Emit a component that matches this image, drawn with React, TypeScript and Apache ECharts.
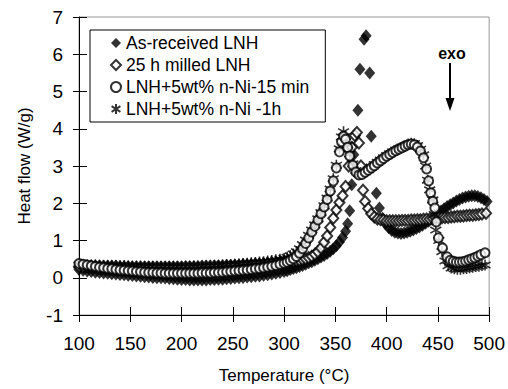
import React, { useEffect, useRef } from "react";
import * as echarts from "echarts";

const FONT = "'Liberation Sans', Arial, sans-serif";

const seriesNames = [
  "As-received LNH",
  "25 h milled LNH",
  "LNH+5wt% n-Ni-15 min",
  "LNH+5wt% n-Ni -1h",
];

const xMin = 100, xMax = 500, xStep = 50;
const yMin = -1, yMax = 7, yStep = 1;

// As-received LNH (filled diamonds)
const asReceived: [number, number][] = [
  [100,0.22],[104,0.2],[108,0.18],[112,0.17],[116,0.15],[120,0.14],[124,0.13],[128,0.12],[132,0.11],[136,0.1],
  [140,0.09],[144,0.08],[148,0.07],[152,0.06],[156,0.05],[160,0.04],[164,0.03],[168,0.02],[172,0.01],[176,0.0],
  [180,0.0],[184,-0.01],[188,-0.02],[192,-0.03],[196,-0.04],[200,-0.05],[204,-0.05],[208,-0.06],[212,-0.06],[216,-0.06],
  [220,-0.06],[224,-0.06],[228,-0.05],[232,-0.05],[236,-0.04],[240,-0.04],[244,-0.03],[248,-0.02],[252,-0.01],[256,0.0],
  [260,0.01],[264,0.02],[268,0.03],[272,0.04],[276,0.05],[280,0.07],[284,0.08],[288,0.1],[292,0.12],[296,0.14],
  [300,0.17],[303,0.19],[306,0.22],[309,0.25],[312,0.27],[315,0.3],[318,0.33],[321,0.36],[324,0.4],[327,0.43],
  [330,0.47],[333,0.51],[336,0.56],[339,0.6],[342,0.65],[345,0.71],[348,0.78],[351,0.86],[354,0.96],[357,1.08],
  [360,1.25],[362,1.45],[364,1.8],[366,2.5],[368,3.3],[372,4.5],[374,5.6],[378,6.4],[380,6.5],[383.5,5.5],
  [385,3.8],[390,2.27],[393,1.87],[396,1.6],[399,1.44],[402,1.34],[405,1.27],[408,1.22],[411,1.2],[414,1.19],
  [417,1.2],[420,1.22],[423,1.25],[426,1.28],[429,1.32],[432,1.36],[435,1.41],[438,1.46],[441,1.52],[444,1.58],
  [447,1.65],[450,1.72],[453,1.79],[456,1.85],[459,1.91],[462,1.96],[465,2.01],[468,2.06],[471,2.1],[474,2.14],
  [477,2.17],[480,2.19],[483,2.2],[486,2.2],[489,2.18],[492,2.15],[495,2.1],[498,2.05],
];

// 25 h milled LNH (open diamonds)
const milled25h: [number, number][] = [
  [100,0.3],[104,0.3],[108,0.31],[112,0.31],[116,0.31],[120,0.31],[124,0.3],[128,0.3],[132,0.3],[136,0.3],
  [140,0.29],[144,0.29],[148,0.29],[152,0.28],[156,0.28],[160,0.28],[164,0.28],[168,0.28],[172,0.28],[176,0.28],
  [180,0.28],[184,0.28],[188,0.28],[192,0.28],[196,0.28],[200,0.28],[204,0.29],[208,0.29],[212,0.29],[216,0.29],
  [220,0.3],[224,0.3],[228,0.3],[232,0.31],[236,0.31],[240,0.31],[244,0.32],[248,0.32],[252,0.33],[256,0.33],
  [260,0.34],[264,0.34],[268,0.35],[272,0.36],[276,0.36],[280,0.37],[284,0.38],[288,0.39],[292,0.4],[296,0.41],
  [300,0.42],[303,0.43],[306,0.44],[309,0.45],[312,0.46],[315,0.47],[318,0.49],[321,0.51],[324,0.54],[327,0.58],
  [330,0.63],[333,0.7],[336,0.8],[339,0.95],[342,1.12],[345,1.35],[348,1.6],[351,1.82],[354,2.02],[357,2.2],
  [360,2.45],[363,3.0],[366,3.5],[369,3.82],[371,3.9],[373,3.62],[375,3.0],[377,2.35],[379,2.05],[382,1.86],
  [385,1.72],[388,1.63],[391,1.58],[394,1.56],[397,1.55],[400,1.53],[403,1.53],[406,1.53],[409,1.53],[412,1.53],
  [415,1.54],[418,1.54],[421,1.54],[424,1.55],[427,1.55],[430,1.56],[433,1.56],[436,1.57],[439,1.58],[442,1.58],
  [445,1.59],[448,1.6],[451,1.6],[454,1.61],[457,1.62],[460,1.62],[463,1.63],[466,1.64],[469,1.65],[472,1.65],
  [475,1.66],[478,1.67],[481,1.68],[484,1.68],[487,1.69],[490,1.7],[493,1.71],[497,1.73],
];

// LNH+5wt% n-Ni-15 min (open circles)
const nNi15min: [number, number][] = [
  [100,0.38],[104,0.36],[108,0.34],[112,0.32],[116,0.3],[120,0.28],[124,0.27],[128,0.25],[132,0.24],[136,0.22],
  [140,0.21],[144,0.2],[148,0.19],[152,0.18],[156,0.17],[160,0.16],[164,0.15],[168,0.14],[172,0.14],[176,0.13],
  [180,0.13],[184,0.12],[188,0.12],[192,0.12],[196,0.12],[200,0.12],[204,0.12],[208,0.12],[212,0.12],[216,0.12],
  [220,0.13],[224,0.13],[228,0.13],[232,0.14],[236,0.14],[240,0.15],[244,0.16],[248,0.17],[252,0.18],[256,0.19],
  [260,0.2],[264,0.21],[268,0.22],[272,0.24],[276,0.25],[280,0.27],[284,0.29],[288,0.31],[292,0.33],[296,0.36],
  [300,0.39],[303,0.42],[306,0.46],[309,0.51],[312,0.57],[315,0.66],[318,0.78],[321,0.92],[324,1.07],[327,1.23],
  [330,1.38],[333,1.55],[336,1.72],[339,1.9],[342,2.1],[345,2.33],[348,2.6],[351,2.95],[354,3.38],[356,3.65],
  [358,3.8],[360,3.72],[362,3.5],[364,3.27],[367,3.02],[370,2.84],[373,2.76],[376,2.77],[379,2.83],[382,2.89],
  [385,2.95],[388,3.01],[391,3.08],[394,3.14],[397,3.2],[400,3.26],[403,3.31],[406,3.36],[409,3.41],[412,3.45],
  [415,3.49],[418,3.53],[421,3.57],[424,3.59],[427,3.57],[430,3.51],[433,3.4],[436,3.22],[439,2.92],[441,2.6],
  [443,2.28],[445,2.05],[447,1.87],[448.5,1.5],[450.5,1.07],[454.5,0.8],[459,0.56],[462,0.47],[465,0.44],[468,0.42],
  [471,0.42],[474,0.43],[477,0.45],[480,0.48],[483,0.51],[486,0.54],[489,0.58],[492,0.62],[496,0.67],
];

// LNH+5wt% n-Ni -1h (asterisks)
const nNi1h: [number, number][] = [
  [100,0.34],[104,0.34],[108,0.34],[112,0.34],[116,0.34],[120,0.33],[124,0.33],[128,0.33],[132,0.33],[136,0.32],
  [140,0.32],[144,0.32],[148,0.31],[152,0.31],[156,0.31],[160,0.31],[164,0.3],[168,0.3],[172,0.3],[176,0.3],
  [180,0.3],[184,0.3],[188,0.3],[192,0.3],[196,0.3],[200,0.3],[204,0.3],[208,0.3],[212,0.31],[216,0.31],
  [220,0.31],[224,0.32],[228,0.32],[232,0.33],[236,0.33],[240,0.34],[244,0.35],[248,0.35],[252,0.36],[256,0.37],
  [260,0.38],[264,0.39],[268,0.4],[272,0.41],[276,0.42],[280,0.43],[284,0.45],[288,0.46],[292,0.48],[296,0.5],
  [300,0.52],[303,0.55],[306,0.59],[309,0.64],[312,0.7],[315,0.78],[318,0.89],[321,1.01],[324,1.14],[327,1.28],
  [330,1.42],[333,1.58],[336,1.75],[339,1.93],[342,2.14],[345,2.38],[348,2.66],[351,3.02],[354,3.46],[356,3.78],
  [358,3.92],[360,3.8],[362,3.56],[364,3.32],[367,3.06],[370,2.88],[373,2.79],[376,2.79],[379,2.84],[382,2.9],
  [385,2.97],[388,3.04],[391,3.1],[394,3.16],[397,3.22],[400,3.28],[403,3.33],[406,3.38],[409,3.43],[412,3.47],
  [415,3.51],[418,3.55],[421,3.59],[424,3.61],[427,3.6],[430,3.55],[433,3.45],[436,3.3],[438,3.0],[440,2.62],
  [442,2.36],[445,2.09],[446.5,1.7],[448,1.28],[451,1.0],[454,0.7],[457,0.45],[460,0.32],[463,0.26],[466,0.24],
  [469,0.23],[472,0.23],[475,0.24],[478,0.25],[481,0.27],[484,0.28],[487,0.3],[490,0.31],[493,0.33],[496,0.34],
];

const ASTERISK = "path://M5 0L5 10M0.6 2.2L9.4 7.8M0.6 7.8L9.4 2.2";

export default function App() {
  const ref = useRef<HTMLDivElement>(null);
  useEffect(() => {
    if (!ref.current) return;
    const chart = echarts.init(ref.current, undefined, { renderer: "svg" });
    const labelStyle = { color: "#000", fontSize: 19, fontFamily: FONT };
    const scatterBase = { type: "scatter" as const, xAxisIndex: 0, yAxisIndex: 0 };
    chart.setOption({
      animation: false,
      backgroundColor: "#fff",
      grid: {
        left: 79, top: 17, right: 16, bottom: 74,
        show: true, borderColor: "#999", borderWidth: 1, backgroundColor: "transparent",
      },
      legend: {
        data: seriesNames,
        orient: "vertical",
        left: 90, top: 30,
        padding: [2, 16, 2, 20],
        itemGap: 0,
        itemWidth: 10, itemHeight: 10,
        borderColor: "#000", borderWidth: 1, backgroundColor: "#fff",
        textStyle: { color: "#000", fontSize: 17.5, fontFamily: FONT, lineHeight: 22 },
        selectedMode: false,
      },
      xAxis: [
        {
          type: "value", min: xMin, max: xMax, interval: xStep, position: "bottom",
          name: "Temperature (°C)", nameLocation: "middle", nameGap: 52,
          nameTextStyle: { color: "#000", fontSize: 17, fontFamily: FONT },
          axisLine: { onZero: false, lineStyle: { color: "#000", width: 1 } },
          axisTick: { show: true, inside: false, length: 7, lineStyle: { color: "#000" } },
          axisLabel: { ...labelStyle, margin: 19 },
          splitLine: { show: false },
        },
        {
          type: "value", min: xMin, max: xMax, interval: xStep, position: "bottom",
          axisLine: { show: false, onZero: false },
          axisTick: { show: true, inside: true, length: 8, lineStyle: { color: "#000" } },
          axisLabel: { show: false },
          splitLine: { show: false },
        },
      ],
      yAxis: [
        {
          type: "value", min: yMin, max: yMax, interval: yStep, position: "left",
          name: "Heat flow (W/g)", nameLocation: "middle", nameGap: 46, nameRotate: 90,
          nameTextStyle: { color: "#000", fontSize: 17, fontFamily: FONT },
          axisLine: { show: true, onZero: false, lineStyle: { color: "#000", width: 1 } },
          axisTick: { show: true, inside: false, length: 6, lineStyle: { color: "#000" } },
          axisLabel: { ...labelStyle, margin: 16 },
          splitLine: { show: false },
        },
        {
          type: "value", min: yMin, max: yMax, interval: yStep, position: "left",
          axisLine: { show: false, onZero: false },
          axisTick: { show: true, inside: true, length: 8, lineStyle: { color: "#000" } },
          axisLabel: { show: false },
          splitLine: { show: false },
        },
      ],
      series: [
        {
          ...scatterBase, name: seriesNames[0], data: asReceived,
          symbol: "diamond", symbolSize: [11, 13],
          itemStyle: { color: "#000" }, z: 2,
        },
        {
          ...scatterBase, name: seriesNames[1], data: milled25h,
          symbol: "emptyDiamond", symbolSize: [10, 11],
          itemStyle: { color: "#000", borderColor: "#000", borderWidth: 1.5 }, z: 3,
        },
        {
          ...scatterBase, name: seriesNames[3], data: nNi1h,
          symbol: ASTERISK, symbolSize: [11, 11],
          itemStyle: { color: "#000", borderColor: "#000", borderWidth: 1.6 }, z: 4,
        },
        {
          ...scatterBase, name: seriesNames[2], data: nNi15min,
          symbol: "emptyCircle", symbolSize: 9,
          itemStyle: { color: "#000", borderColor: "#000", borderWidth: 1.5 }, z: 5,
        },
      ],
      graphic: [
        {
          type: "text", x: 452, y: 53, z: 100,
          style: { text: "exo", fill: "#000", fontSize: 16, fontWeight: "bold", fontFamily: FONT, align: "center", verticalAlign: "middle" },
        },
        { type: "line", z: 100, shape: { x1: 450, y1: 63, x2: 450, y2: 100 }, style: { stroke: "#000", lineWidth: 2 } },
        { type: "polygon", z: 100, shape: { points: [[445.5, 98], [454.5, 98], [450, 111]] }, style: { fill: "#000" } },
      ],
    });
    return () => chart.dispose();
  }, []);
  return <div ref={ref} style={{ position: "fixed", left: 0, top: 0, width: 508, height: 389 }} />;
}
